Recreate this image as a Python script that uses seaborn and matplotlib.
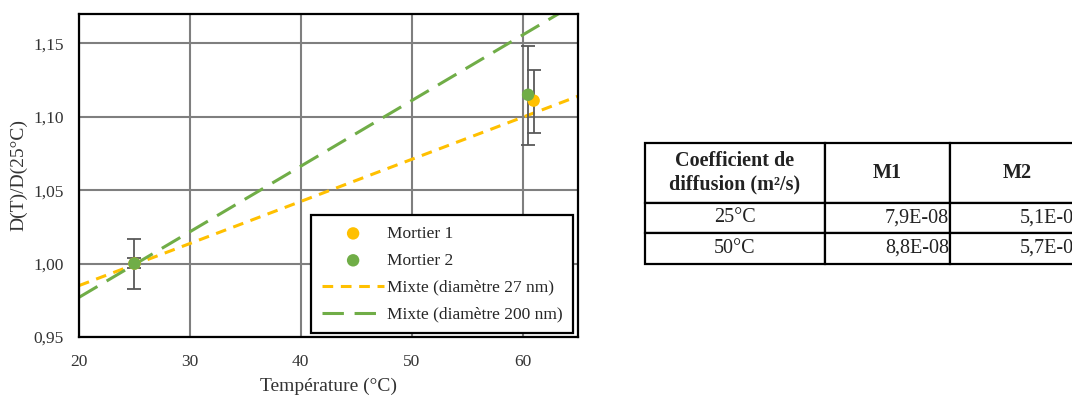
import numpy as np
import pandas as pd
import matplotlib.pyplot as plt
import seaborn as sns
from matplotlib.ticker import FuncFormatter

# données
temp_m1 = [25.0, 61.0]
ratio_m1 = [1.000, 1.111]
err_m1_bas = [0.017, 0.022]
err_m1_haut = [0.017, 0.021]

temp_m2 = [25.0, 60.5]
ratio_m2 = [1.000, 1.115]
err_m2_bas = [0.003, 0.034]
err_m2_haut = [0.0035, 0.033]

temp_ligne = [20.0, 65.0]
mixte_27 = [0.985, 1.114]
mixte_200 = [0.977, 1.178]

# tableau
entetes = ["Coefficient de\ndiffusion (m²/s)", "M1", "M2"]
lignes = [["25°C", "7,9E-08", "5,1E-07"],
          ["50°C", "8,8E-08", "5,7E-07"]]

jaune = "#FFC000"
vert = "#70AD47"

sns.set_theme(style="white")
plt.rcParams['font.family'] = ['Liberation Serif', 'DejaVu Serif']

fig = plt.figure(figsize=(10.72, 3.98), dpi=100)
ax = fig.add_axes([79 / 1072, 1 - 337 / 398, 499 / 1072, 323 / 398])

df1 = pd.DataFrame({"T": temp_m1, "r": ratio_m1})
df2 = pd.DataFrame({"T": temp_m2, "r": ratio_m2})

ax.errorbar(temp_m1, ratio_m1, yerr=[err_m1_bas, err_m1_haut], fmt="none",
            ecolor="#595959", elinewidth=1.3, capsize=5, capthick=1.3, zorder=3)
ax.errorbar(temp_m2, ratio_m2, yerr=[err_m2_bas, err_m2_haut], fmt="none",
            ecolor="#595959", elinewidth=1.3, capsize=5, capthick=1.3, zorder=3)

sns.lineplot(x=temp_ligne, y=mixte_27, ax=ax, color=jaune, lw=2.2,
             linestyle=(0, (3.5, 2.5)), label="Mixte (diamètre 27 nm)", zorder=2)
sns.lineplot(x=temp_ligne, y=mixte_200, ax=ax, color=vert, lw=2.2,
             linestyle=(0, (7, 3.5)), label="Mixte (diamètre 200 nm)", zorder=2)
sns.scatterplot(data=df1, x="T", y="r", ax=ax, color=jaune, s=80,
                edgecolor="none", label="Mortier 1", zorder=4)
sns.scatterplot(data=df2, x="T", y="r", ax=ax, color=vert, s=80,
                edgecolor="none", label="Mortier 2", zorder=5)

ax.set_xlim(20, 65)
ax.set_ylim(0.95, 1.17)
ax.set_xticks([20, 30, 40, 50, 60])
ax.set_yticks([0.95, 1.00, 1.05, 1.10, 1.15])
ax.yaxis.set_major_formatter(FuncFormatter(lambda v, p: f"{v:.2f}".replace(".", ",")))
ax.grid(True, color="#7f7f7f", lw=1.5)
ax.set_axisbelow(True)
for s in ax.spines.values():
    s.set_color("black")
    s.set_linewidth(1.6)
ax.tick_params(axis="y", labelsize=12.5, colors="#333333", length=0, pad=11)
ax.tick_params(axis="x", labelsize=12.5, colors="#333333", length=0, pad=12)
ax.set_xlabel("Température (°C)", fontsize=14, color="#333333", labelpad=6)
ax.set_ylabel("D(T)/D(25°C)", fontsize=14, color="#333333", labelpad=4)

h, l = ax.get_legend_handles_labels()
ordre = [l.index("Mortier 1"), l.index("Mortier 2"),
         l.index("Mixte (diamètre 27 nm)"), l.index("Mixte (diamètre 200 nm)")]
leg = ax.legend([h[i] for i in ordre], [l[i] for i in ordre], loc="lower right",
                bbox_to_anchor=(0.99, 0.012), fontsize=12.5, frameon=True,
                fancybox=False, edgecolor="black", framealpha=1,
                handlelength=3.6, labelspacing=0.62, borderpad=0.6,
                handletextpad=0.15, borderaxespad=0)
leg.get_frame().set_linewidth(1.6)

# tableau à droite
tax = fig.add_axes([645 / 1072, 1 - 264 / 398, 440 / 1072, 121 / 398])
tax.axis("off")
tab = tax.table(cellText=lignes, colLabels=entetes, bbox=[0, 0, 1, 1],
                colWidths=[180, 125, 135], cellLoc="center")
tab.auto_set_font_size(False)
hauteurs = {0: 60 / 121, 1: 30 / 121, 2: 31 / 121}
for (r, c), cell in tab.get_celld().items():
    cell.set_linewidth(1.6)
    cell.set_edgecolor("black")
    cell.set_height(hauteurs[r])
    cell.get_text().set_fontsize(14.5)
    cell.get_text().set_color("#222222")
    if r == 0:
        cell.get_text().set_fontweight("bold")
    elif c > 0:
        cell.get_text().set_ha("right")
        cell._loc = "right"
        cell.PAD = 0.01

fig.savefig("out.png", dpi=100)
